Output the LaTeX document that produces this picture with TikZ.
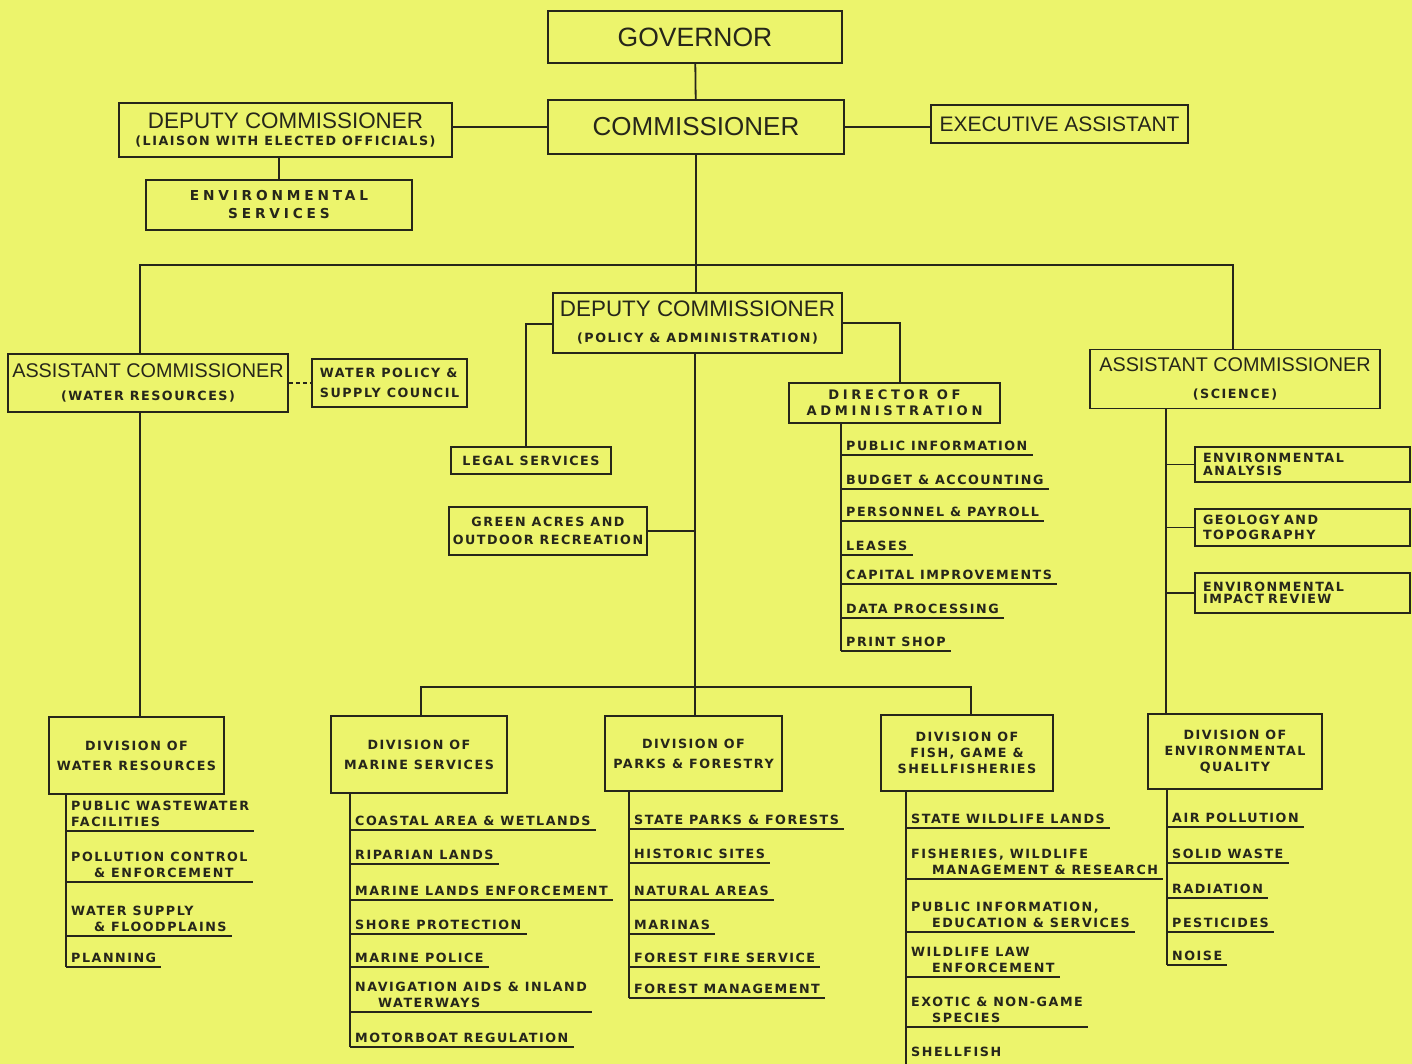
\documentclass[tikz,border=0pt]{standalone}
\usepackage{fontspec}
\setmainfont{Liberation Sans}
\newfontfamily\letterfont[LetterSpace=12]{DejaVu Sans}
\newfontfamily\widefont[LetterSpace=28]{DejaVu Sans}
\usetikzlibrary{positioning,calc}
\definecolor{paper}{HTML}{ECF46C}
\definecolor{ink}{HTML}{26261A}
\newcommand{\headline}[2]{{\fontsize{#1}{#1}\normalfont #2}}
\tikzset{
  wire/.style={draw=ink, line width=1.8pt},
  orgbox/.style={draw=ink, line width=1.8pt, text=ink, align=center, inner sep=2pt,
    font=\fontsize{12.7}{15}\letterfont\bfseries},
  chief/.style={orgbox, font=\fontsize{26}{26}\normalfont},
  sidebox/.style={orgbox, align=left, text width=199pt, inner xsep=8pt},
  subunit/.style={anchor=south west, align=left, text=ink, inner xsep=5pt, inner ysep=4pt,
    text depth=0pt, font=\fontsize{12.7}{16.5}\letterfont\bfseries}
}
\newcommand{\orgitem}[4]{%
  \node[subunit] (#1) at (#2,#3) {#4};
  \draw[wire] (#1.south west) -- (#1.south east);
}

\begin{document}
\begin{tikzpicture}[x=1pt,y=-1pt]
\fill[paper] (0,0) rectangle (1412,1064);
\useasboundingbox (0,0) rectangle (1412,1064);

% top of the chart
\node[chief, minimum width=294, minimum height=52, font=\fontsize{26.5}{26.5}\normalfont] (gov) at (695,37) {GOVERNOR};
\node[chief, minimum width=296, minimum height=54] (comm) at (696,127) {COMMISSIONER};
\node[orgbox, minimum width=333, minimum height=54] (depl) at (285.5,130)
  {\headline{22.4}{DEPUTY COMMISSIONER}\\[2.5pt](LIAISON WITH ELECTED OFFICIALS)};
\node[orgbox, minimum width=266, minimum height=50, font=\fontsize{13.7}{18}\widefont\bfseries] (envs) at (279,205)
  {ENVIRONMENTAL\\SERVICES};
\node[chief, minimum width=257, minimum height=38, font=\fontsize{21}{21}\normalfont] (exec) at (1059.5,124)
  {EXECUTIVE ASSISTANT};

% assistant commissioners
\node[orgbox, minimum width=280, minimum height=58] (acw) at (148,383)
  {\headline{19.8}{ASSISTANT COMMISSIONER}\\[8.5pt](WATER RESOURCES)};
\node[orgbox, minimum width=155, minimum height=48, align=left] (wpsc) at (389.5,383)
  {WATER POLICY \&\\[5pt]SUPPLY COUNCIL};
\node[orgbox, minimum width=290, minimum height=59] (acs) at (1235,379)
  {\headline{19.8}{ASSISTANT COMMISSIONER}\\[11.5pt](SCIENCE)};
\node[sidebox, minimum height=35, font=\fontsize{12.7}{12.5}\letterfont\bfseries] (ea) at (1302.5,464.5)
  {ENVIRONMENTAL\\ANALYSIS};
\node[sidebox, minimum height=37] (geo) at (1302.5,527.5) {GEOLOGY AND\\TOPOGRAPHY};
\node[sidebox, minimum height=40, font=\fontsize{12.7}{12.5}\letterfont\bfseries] (eir) at (1302.5,593)
  {ENVIRONMENTAL\\IMPACT REVIEW};

% deputy for policy and administration
\node[orgbox, minimum width=289, minimum height=60] (depp) at (697.5,323)
  {\headline{22.4}{DEPUTY COMMISSIONER}\\[11pt](POLICY \& ADMINISTRATION)};
\node[orgbox, minimum width=160, minimum height=27] (legal) at (531,460.5) {LEGAL SERVICES};
\node[orgbox, minimum width=198, minimum height=48] (green) at (548,531)
  {GREEN ACRES AND\\[3pt]OUTDOOR RECREATION};
\node[orgbox, minimum width=211, minimum height=40, font=\fontsize{13.1}{16}\widefont\bfseries] (dir) at (894.5,403)
  {DIRECTOR OF\\ADMINISTRATION};

% divisions
\node[orgbox, minimum width=175, minimum height=77] (wr) at (136.5,755.5) {DIVISION OF\\[5pt]WATER RESOURCES};
\node[orgbox, minimum width=176, minimum height=77] (ms) at (419,754.5) {DIVISION OF\\[5pt]MARINE SERVICES};
\node[orgbox, minimum width=177, minimum height=75] (pf) at (693.5,753.5) {DIVISION OF\\[5pt]PARKS \& FORESTRY};
\node[orgbox, minimum width=172, minimum height=76] (fg) at (967,753)
  {DIVISION OF\\[1pt]FISH, GAME \&\\[1pt]SHELLFISHERIES};
\node[orgbox, minimum width=174, minimum height=75] (eq) at (1235,751.5)
  {DIVISION OF\\[1pt]ENVIRONMENTAL\\[1pt]QUALITY};

% sections under each office
\orgitem{dir1}{841}{455}{PUBLIC INFORMATION}
\orgitem{dir2}{841}{489}{BUDGET \& ACCOUNTING}
\orgitem{dir3}{841}{521}{PERSONNEL \& PAYROLL}
\orgitem{dir4}{841}{555}{LEASES}
\orgitem{dir5}{841}{584}{CAPITAL IMPROVEMENTS}
\orgitem{dir6}{841}{618}{DATA PROCESSING}
\orgitem{dir7}{841}{651}{PRINT SHOP}

\orgitem{wr1}{66}{831}{PUBLIC WASTEWATER\\FACILITIES}
\orgitem{wr2}{66}{882}{POLLUTION CONTROL\\\hspace*{23pt}\& ENFORCEMENT}
\orgitem{wr3}{66}{936}{WATER SUPPLY\\\hspace*{23pt}\& FLOODPLAINS}
\orgitem{wr4}{66}{967}{PLANNING}

\orgitem{ms1}{350}{830}{COASTAL AREA \& WETLANDS}
\orgitem{ms2}{350}{864}{RIPARIAN LANDS}
\orgitem{ms3}{350}{900}{MARINE LANDS ENFORCEMENT}
\orgitem{ms4}{350}{934}{SHORE PROTECTION}
\orgitem{ms5}{350}{967}{MARINE POLICE}
\orgitem{ms6}{350}{1012}{NAVIGATION AIDS \& INLAND\\\hspace*{23pt}WATERWAYS}
\orgitem{ms7}{350}{1047}{MOTORBOAT REGULATION}

\orgitem{pf1}{629}{829}{STATE PARKS \& FORESTS}
\orgitem{pf2}{629}{863}{HISTORIC SITES}
\orgitem{pf3}{629}{900}{NATURAL AREAS}
\orgitem{pf4}{629}{934}{MARINAS}
\orgitem{pf5}{629}{967}{FOREST FIRE SERVICE}
\orgitem{pf6}{629}{998}{FOREST MANAGEMENT}

\orgitem{fg1}{906}{828}{STATE WILDLIFE LANDS}
\orgitem{fg2}{906}{879}{FISHERIES, WILDLIFE\\\hspace*{21pt}MANAGEMENT \& RESEARCH}
\orgitem{fg3}{906}{932}{PUBLIC INFORMATION,\\\hspace*{21pt}EDUCATION \& SERVICES}
\orgitem{fg4}{906}{977}{WILDLIFE LAW\\\hspace*{21pt}ENFORCEMENT}
\orgitem{fg5}{906}{1027}{EXOTIC \& NON-GAME\\\hspace*{21pt}SPECIES}
\node[subunit, inner ysep=10pt] (fg6) at (906,1067) {SHELLFISH};
\draw[wire] (fg6.south west) -- (fg6.south east);

\orgitem{eq1}{1167}{827}{AIR POLLUTION}
\orgitem{eq2}{1167}{863}{SOLID WASTE}
\orgitem{eq3}{1167}{898}{RADIATION}
\orgitem{eq4}{1167}{932}{PESTICIDES}
\orgitem{eq5}{1167}{965}{NOISE}

% connectors
\coordinate (acwtap) at (140,265);
\coordinate (acstap) at (1233,265);
\coordinate (legaltap) at (526,324);
\coordinate (dirtap) at (900,323);
\coordinate (divtap) at (695,687);
\coordinate (mstap) at (421,687);
\coordinate (fgtap) at (971,687);
\coordinate (scisp) at (1166,0);

\draw[wire] (gov) -- (comm);
\draw[wire] (comm.west) -- (comm.west -| depl.east);
\draw[wire] (comm.east) -- (comm.east -| exec.west);
\draw[wire] (envs.north) -- (envs.north |- depl.south);
\draw[wire] (acw.north -| acwtap) -- (acwtap) -- (acstap) -- (acs.north -| acstap);
\draw[wire] (comm.south) -- (comm.south |- depp.north);
\draw[wire, dash pattern=on 4pt off 3pt] (wpsc.west -| acw.east) -- (wpsc.west);
\draw[wire] (acw.south -| acwtap) -- (wr.north -| acwtap);
\draw[wire] (depp.west |- legaltap) -- (legaltap) -- (legal.north -| legaltap);
\draw[wire] (depp.east |- dirtap) -- (dirtap) -- (dir.north -| dirtap);
\draw[wire] (depp.south -| divtap) -- (pf.north -| divtap);
\draw[wire] (green.east) -- (green.east -| divtap);
\draw[wire] (ms.north -| mstap) -- (mstap) -- (fgtap) -- (fg.north -| fgtap);
\draw[wire] (acs.south -| scisp) -- (eq.north -| scisp);
\foreach \b in {ea,geo,eir}
  \draw[wire] (\b.west) -- (\b.west -| scisp);

% spines of the section lists
\draw[wire] (dir.south -| dir7.south west) -- (dir7.south west);
\draw[wire] (wr.south -| wr4.south west) -- (wr4.south west);
\draw[wire] (ms.south -| ms7.south west) -- (ms7.south west);
\draw[wire] (pf.south -| pf6.south west) -- (pf6.south west);
\draw[wire] (fg.south -| fg6.south west) -- (fg6.south west);
\draw[wire] (eq.south -| eq5.south west) -- (eq5.south west);
\end{tikzpicture}
\end{document}
